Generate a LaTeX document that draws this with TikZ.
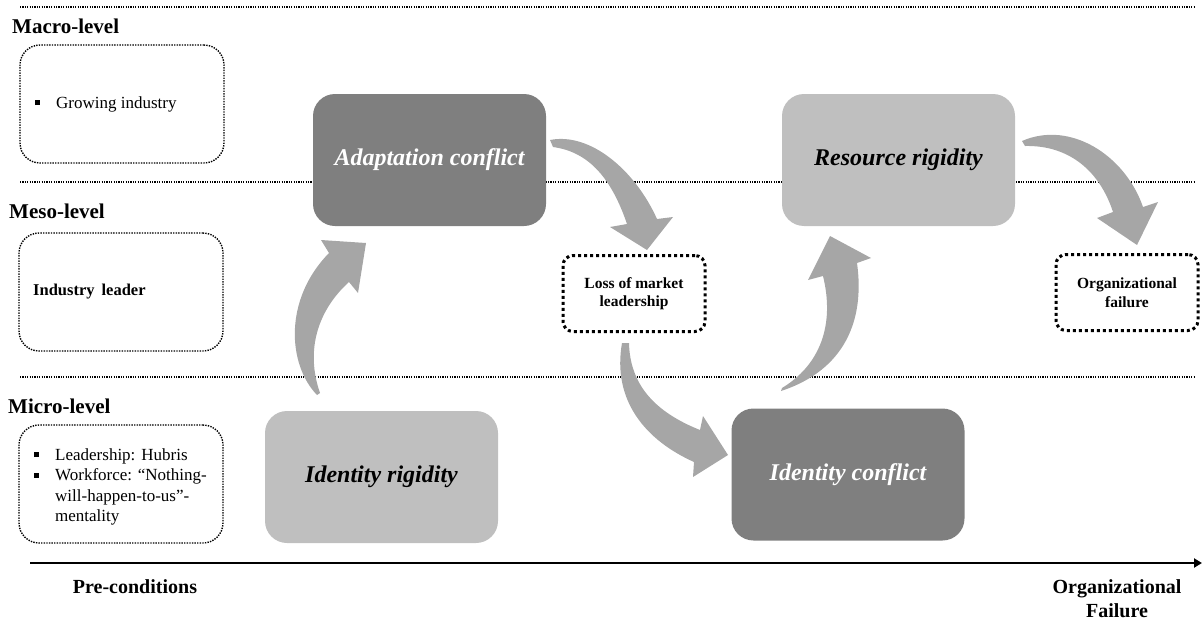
\documentclass[tikz,border=0pt]{standalone}
\usepackage{fontspec}
\setmainfont{Liberation Serif}
\usetikzlibrary{arrows.meta}
\definecolor{boxdark}{HTML}{7F7F7F}
\definecolor{boxlight}{HTML}{BFBFBF}
\definecolor{flowgray}{HTML}{A6A6A6}
\newcommand{\sqbullet}{\rule[3pt]{5pt}{5pt}}

\begin{document}
\begin{tikzpicture}[x=1pt,y=-1pt,
  separator/.style={line width=1.2pt,dash pattern=on 1.2pt off 1.2pt},
  levelname/.style={anchor=base west,inner sep=0pt,font=\fontsize{21}{25}\selectfont\bfseries},
  bodytext/.style={anchor=base west,inner sep=0pt,font=\fontsize{17}{20.5}\selectfont},
  levelbox/.style={draw,line width=1.4pt,dash pattern=on 1.4pt off 1.2pt,rounded corners=20pt,
    minimum width=204pt,minimum height=118pt,inner sep=0pt},
  mainbox/.style={rounded corners=22pt,minimum width=233pt,minimum height=132pt,inner sep=0pt,
    font=\fontsize{24}{28}\selectfont\bfseries\itshape},
  darkbox/.style={mainbox,fill=boxdark,text=white},
  lightbox/.style={mainbox,fill=boxlight,text=black},
  outcomebox/.style={draw,line width=3pt,dash pattern=on 3pt off 3pt,rounded corners=10pt,
    minimum width=142pt,minimum height=76pt,inner sep=0pt,align=center,
    font=\fontsize{15.5}{18.5}\selectfont\bfseries},
  flow/.style={fill=flowgray,draw=none},
  axislabel/.style={anchor=base,inner sep=0pt,font=\fontsize{20}{24}\selectfont\bfseries}
]
\useasboundingbox (0,0) rectangle (1202,621);

% level separators
\coordinate (sepTopL) at (20,7);    \coordinate (sepTopR) at (1195,7);
\coordinate (sepMidL) at (20,182);  \coordinate (sepMidR) at (1195,182);
\coordinate (sepLowL) at (20,377);  \coordinate (sepLowR) at (1195,377);
\draw[separator] (sepTopL) -- (sepTopR);
\draw[separator] (sepMidL) -- (sepMidR);
\draw[separator] (sepLowL) -- (sepLowR);

% level headings and pre-condition boxes
\node[levelname] (macro) at (12,33) {Macro-level};
\node[levelname] (meso)  at (9,218) {Meso-level};
\node[levelname] (micro) at (8,413) {Micro-level};

\node[levelbox] (macrobox) at (122,104) {};
\node[levelbox] (mesobox)  at (121,292) {};
\node[levelbox] (microbox) at (121,484) {};

\node[bodytext] (macrotxt) at (35,108)
  {\begin{tabular}[t]{@{}l@{\hspace{16pt}}l@{}}\sqbullet & Growing industry\end{tabular}};
\node[bodytext,font=\fontsize{16.5}{20}\selectfont\bfseries] (mesotxt) at (33,295)
  {Industry\hspace{7pt}leader};
\node[bodytext] (microtxt) at (34,460)
  {\begin{tabular}[t]{@{}l@{\hspace{16pt}}l@{}}
   \sqbullet & Leadership:\hspace{6pt}Hubris\\
   \sqbullet & Workforce: “Nothing-\\
             & will-happen-to-us”-\\
             & mentality
   \end{tabular}};

% mechanism boxes
\node[darkbox]  (adapt)  at (429.5,160) {Adaptation conflict};
\node[lightbox] (resrig) at (898.5,160) {Resource rigidity};
\node[lightbox] (idrig)  at (381.5,477) {Identity rigidity};
\node[darkbox]  (idconf) at (848,474.5) {Identity conflict};

% outcome boxes
\node[outcomebox] (loss) at (634,293.5) {Loss of market\\leadership};
\node[outcomebox] (fail) at (1127,292.5) {Organizational\\failure};

% curved block arrows
\path[flow] (317,395) .. controls (288,365) and (283,300) .. (329,253)
  -- (321,240) -- (366,243) -- (358,293) -- (349,282)
  .. controls (318,310) and (305,350) .. (320,393) -- cycle;
\path[flow] (550,140) .. controls (590,132) and (635,170) .. (657,219)
  -- (673,217) -- (647,250) -- (610,227) -- (627,224)
  .. controls (612,180) and (590,152) .. (553,147) -- cycle;
\path[flow] (622,343) .. controls (612,400) and (645,440) .. (694,462)
  -- (693,477) -- (728,455) -- (703,416) -- (700,430)
  .. controls (655,412) and (630,385) .. (629,343) -- cycle;
\path[flow] (781,391) .. controls (845,370) and (865,320) .. (857,263)
  -- (871,258) -- (830,236) -- (808,280) -- (823,276)
  .. controls (835,325) and (820,365) .. (782,388) -- cycle;
\path[flow] (1022,141) .. controls (1070,120) and (1125,155) .. (1143,207)
  -- (1158,202) -- (1137,245) -- (1097,218) -- (1113,212)
  .. controls (1100,172) and (1070,145) .. (1025,146) -- cycle;

% time axis
\coordinate (axstart) at (30,563);
\coordinate (axend) at (1202,563);
\draw[line width=2.5pt,-{Triangle[length=8pt,width=9pt]}] (axstart) -- (axend);
\node[axislabel] (pre) at (135,593) {Pre-conditions};
\node[axislabel] (post) at (1117,593)
  {\begin{tabular}[t]{@{}c@{}}Organizational\\Failure\end{tabular}};
\end{tikzpicture}
\end{document}
